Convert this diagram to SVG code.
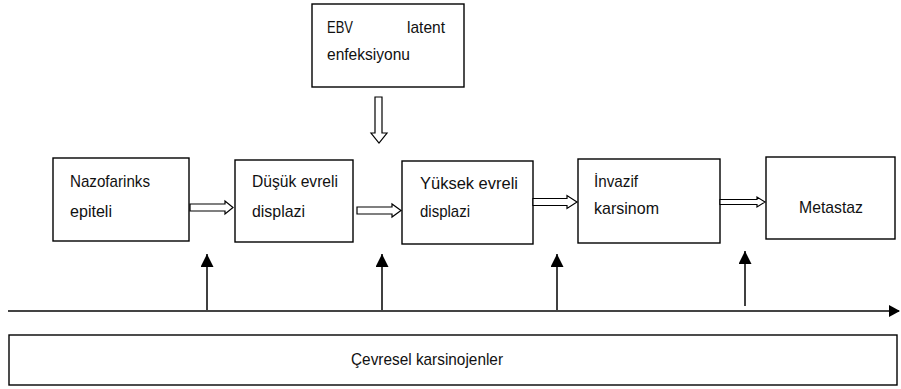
<svg xmlns="http://www.w3.org/2000/svg" width="901" height="389" viewBox="0 0 901 389">
<defs>
<style>
.box{fill:#fff;stroke:#000;stroke-width:1.4}
.t{font-family:"Liberation Sans",Arial,sans-serif;font-size:17px;fill:#111}
.hol{fill:#fff;stroke:#000;stroke-width:1.2;stroke-linejoin:miter}
.up{stroke:#000;stroke-width:1.5;fill:none}
</style>
<marker id="ah" markerWidth="12" markerHeight="12" refX="10" refY="6" orient="auto" markerUnits="userSpaceOnUse">
<path d="M0,0 L11,6 L0,12 Z" fill="#000"/>
</marker>
<marker id="ahu" markerWidth="14" markerHeight="14" refX="13" refY="6.5" orient="auto" markerUnits="userSpaceOnUse" viewBox="0 0 14 14">
<path d="M0,0 L13,6.5 L0,13 Z" fill="#000"/>
</marker>
</defs>
<rect width="901" height="389" fill="#fff"/>

<g id="ebv">
<rect class="box" x="312" y="4" width="152" height="83"/>
<text class="t" x="327" y="33" textLength="26" lengthAdjust="spacingAndGlyphs">EBV</text>
<text class="t" x="407" y="33" textLength="38" lengthAdjust="spacingAndGlyphs">latent</text>
<text class="t" x="327" y="60" textLength="83" lengthAdjust="spacingAndGlyphs">enfeksiyonu</text>
</g>

<g id="nazofarinks">
<rect class="box" x="53" y="158" width="136" height="83"/>
<text class="t" x="70" y="187" textLength="80" lengthAdjust="spacingAndGlyphs">Nazofarinks</text>
<text class="t" x="70" y="217" textLength="42" lengthAdjust="spacingAndGlyphs">epiteli</text>
</g>

<g id="dusuk">
<rect class="box" x="235" y="160" width="118" height="82"/>
<text class="t" x="252" y="187" textLength="86" lengthAdjust="spacingAndGlyphs">Düşük evreli</text>
<text class="t" x="252" y="217" textLength="53" lengthAdjust="spacingAndGlyphs">displazi</text>
</g>

<g id="yuksek">
<rect class="box" x="402" y="161" width="131" height="83"/>
<text class="t" x="420" y="189" textLength="98" lengthAdjust="spacingAndGlyphs">Yüksek  evreli</text>
<text class="t" x="420" y="217" textLength="50" lengthAdjust="spacingAndGlyphs">displazi</text>
</g>

<g id="invazif">
<rect class="box" x="578" y="159" width="142" height="84"/>
<text class="t" x="594" y="187" textLength="44" lengthAdjust="spacingAndGlyphs">İnvazif</text>
<text class="t" x="594" y="214" textLength="65" lengthAdjust="spacingAndGlyphs">karsinom</text>
</g>

<g id="metastaz">
<rect class="box" x="766" y="157" width="129" height="82"/>
<text class="t" x="799" y="213" textLength="64" lengthAdjust="spacingAndGlyphs">Metastaz</text>
</g>

<g id="cevresel">
<rect class="box" x="9" y="335" width="888" height="50" stroke="#333"/>
<text class="t" x="351" y="365" textLength="152" lengthAdjust="spacingAndGlyphs">Çevresel karsinojenler</text>
</g>

<g id="connectors">
<polygon class="hol" points="375,97 382,97 382,133 387,133 379,143 371,133 375,133"/>
<polygon class="hol" points="190,204 225,204 225,201 233,207.5 225,214 225,211 190,211"/>
<polygon class="hol" points="357,207 392,207 392,204 401,210.5 392,217 392,214 357,214"/>
<polygon class="hol" points="533,198.5 567,198.5 567,195.5 577,202 567,208.5 567,205.5 533,205.5"/>
<polygon class="hol" points="720,199.5 757,199.5 757,197 765,202 757,207 757,204.5 720,204.5"/>
<line x1="8" y1="311" x2="899" y2="311" stroke="#444" stroke-width="2" marker-end="url(#ah)"/>
<line class="up" x1="207" y1="310" x2="207" y2="254" marker-end="url(#ahu)"/>
<line class="up" x1="382" y1="310" x2="382" y2="254" marker-end="url(#ahu)"/>
<line class="up" x1="557" y1="310" x2="557" y2="254" marker-end="url(#ahu)"/>
<line class="up" x1="745" y1="306" x2="745" y2="251" marker-end="url(#ahu)"/>
</g>
</svg>
